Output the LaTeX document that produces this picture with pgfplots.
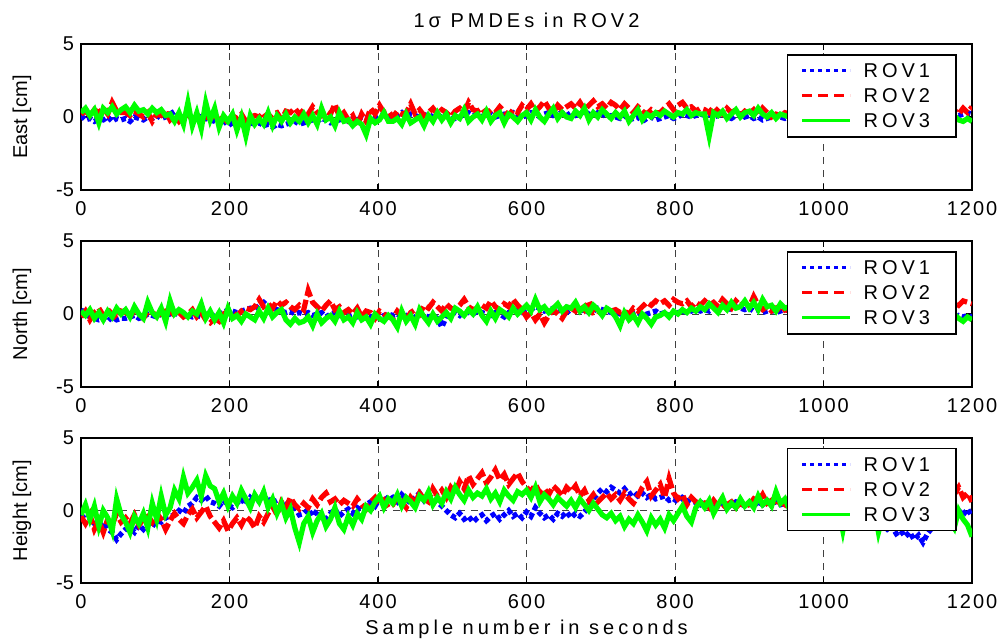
\documentclass[border=0pt]{standalone}
\usepackage{pgfplots}
\pgfplotsset{compat=1.18}
\usepackage{pgfplotstable}
\usepackage{fontspec}
\setmainfont{Liberation Sans}
\newfontfamily\spacedfont[LetterSpace=20]{Liberation Sans}
\newfontfamily\tickfont[LetterSpace=10]{Liberation Sans}

\definecolor{rovone}{RGB}{0,0,255}
\definecolor{rovtwo}{RGB}{255,0,0}
\definecolor{rovthree}{RGB}{0,255,0}

% columns: t = sample, a = ROV1, b = ROV2, c = ROV3 (cm)
\pgfplotstableread{
t a b c
0 0.1 0.2 0.3
6 -0.2 0.4 0.6
12 -0.1 0.1 0.1
18 -0.3 0.5 0.5
24 -0.1 0.3 -0.4
30 -0.2 0.6 0.6
36 0.0 0.2 0.3
42 -0.3 1.0 0.7
48 -0.1 0.4 0.2
54 -0.2 0.3 0.5
60 -0.1 0.3 0.7
66 -0.3 0.1 0.3
72 0.0 0.4 0.8
78 -0.1 0.2 0.4
84 -0.2 0.0 0.5
90 0.0 0.3 0.2
96 -0.1 -0.3 0.6
102 0.1 0.2 0.3
108 -0.1 0.1 0.5
114 0.0 0.4 0.1
120 0.2 -0.2 0.2
126 0.4 0.1 -0.3
132 0.1 -0.3 0.3
138 0.0 0.0 -0.5
144 0.2 0.2 1.0
150 -0.1 -0.2 -0.6
156 0.1 0.1 0.3
162 0.0 -0.4 -0.8
168 -0.1 0.0 1.0
174 -0.2 -0.1 -0.2
180 -0.3 0.1 0.6
186 -0.5 -0.2 -0.7
192 -0.2 0.0 0.1
198 -0.6 -0.4 -0.3
204 -0.4 0.1 0.2
210 -0.3 -0.1 -0.9
216 -0.5 0.2 0.0
222 -0.6 -0.3 -1.3
228 -0.4 0.0 0.1
234 -0.5 0.1 -0.5
240 -0.4 0.0 -0.1
246 -0.6 0.3 -0.5
252 -0.5 -0.1 0.3
258 -0.7 0.2 -0.6
264 -0.5 0.3 0.1
270 -0.6 -0.2 -0.3
276 -0.5 0.4 0.2
282 -0.4 0.3 -0.4
288 -0.3 0.6 0.0
294 -0.5 0.2 -0.3
300 -0.4 0.5 0.2
306 -0.3 0.2 -0.4
312 -0.2 0.7 0.1
318 -0.3 0.3 -0.5
324 -0.1 0.1 0.6
330 -0.2 0.4 -0.2
336 -0.4 0.2 0.0
342 -0.3 0.9 -0.6
348 -0.2 0.0 0.3
354 -0.1 0.3 -0.3
360 -0.3 -0.2 -0.2
366 -0.1 0.1 -0.6
372 -0.2 -0.6 -0.3
378 0.0 0.2 -0.5
384 -0.1 -0.3 -1.2
390 0.1 0.6 -0.1
396 0.0 0.2 -0.4
402 0.2 0.8 -0.2
408 0.1 0.3 0.3
414 0.0 0.4 -0.3
420 0.2 0.0 -0.3
426 0.1 0.4 -0.1
432 0.3 0.2 -0.5
438 0.0 0.3 0.2
444 0.2 0.9 -0.4
450 0.1 0.2 -0.2
456 0.0 0.5 0.0
462 0.1 0.1 -0.6
468 0.2 0.3 0.1
474 0.0 0.6 -0.3
480 0.1 0.2 0.3
486 0.0 0.5 -0.2
492 0.2 0.3 0.2
498 0.1 0.0 -0.4
504 -0.1 0.4 0.1
510 0.0 0.6 -0.1
516 0.2 0.3 0.5
522 0.3 1.0 -0.3
528 0.1 0.5 0.0
534 0.2 0.4 0.2
540 0.0 0.6 -0.2
546 0.1 0.2 0.4
552 0.2 0.5 -0.3
558 0.0 0.3 0.1
564 0.1 0.7 0.3
570 0.2 0.4 -0.4
576 0.1 0.1 0.2
582 0.3 0.5 0.0
588 0.1 0.3 -0.3
594 0.0 0.8 0.1
600 0.1 0.5 0.3
606 0.3 0.9 -0.2
612 0.2 0.4 0.5
618 0.0 0.7 0.0
624 0.2 1.1 -0.3
630 0.3 0.6 0.2
636 0.1 0.3 0.6
642 0.2 0.8 -0.1
648 0.3 0.5 0.3
654 0.1 0.7 0.0
660 0.3 0.9 -0.1
666 0.1 0.6 0.4
672 0.2 1.0 0.1
678 0.4 0.5 0.6
684 0.2 0.8 -0.2
690 0.1 1.1 0.3
696 0.3 0.7 0.0
702 0.2 0.9 0.5
708 0.0 0.6 0.2
714 0.1 1.0 -0.1
720 0.0 0.8 0.3
726 -0.1 0.5 0.0
732 0.1 0.9 0.4
738 -0.2 0.6 -0.3
744 -0.1 0.3 0.1
750 0.0 0.7 0.5
756 -0.3 0.4 -0.2
762 -0.1 0.2 0.2
768 0.0 0.5 0.0
774 -0.2 0.3 0.3
780 -0.1 0.3 0.1
786 0.0 0.6 0.4
792 0.1 0.9 0.2
798 -0.1 0.5 0.0
804 0.0 0.8 0.3
810 0.2 1.0 0.2
816 0.1 0.6 0.5
822 0.0 0.7 0.1
828 0.1 0.4 0.3
834 0.2 0.6 0.2
840 0.1 0.5 0.2
846 0.2 0.3 -1.3
852 0.0 0.7 0.3
858 0.1 0.4 0.1
864 0.2 0.2 0.4
870 0.0 0.6 -0.1
876 -0.1 0.3 0.2
882 0.1 0.5 0.5
888 0.2 0.1 0.0
894 0.0 0.4 0.3
900 0.1 0.2 0.4
906 -0.1 0.5 0.1
912 0.0 0.1 0.6
918 -0.2 0.6 0.2
924 -0.1 0.3 0.0
930 0.0 0.0 0.3
936 0.1 0.2 -0.1
942 0.0 0.1 0.2
948 -0.1 0.3 0.1
954 0.0 0.2 0.0
960 0.0 0.2 0.1
966 0.1 0.4 -0.2
972 0.2 0.1 0.3
978 0.1 0.3 0.0
984 0.0 0.5 -0.3
990 0.2 0.2 0.2
996 0.1 0.4 0.1
1002 0.3 0.3 -0.1
1008 0.2 0.1 0.3
1014 0.1 0.2 0.0
1020 0.1 0.3 -0.1
1026 0.0 0.1 0.2
1032 0.2 0.4 0.0
1038 0.1 0.2 -0.3
1044 0.3 0.0 0.1
1050 0.2 0.3 -0.2
1056 0.1 0.5 0.2
1062 0.0 0.2 0.0
1068 0.2 0.4 -0.1
1074 0.1 0.3 0.1
1080 0.2 0.2 0.0
1086 0.1 0.4 -0.2
1092 0.3 0.3 0.1
1098 0.2 0.5 -0.1
1104 0.0 0.2 0.2
1110 0.1 0.1 -0.3
1116 0.2 0.3 0.0
1122 0.3 0.4 -0.1
1128 0.1 0.2 0.1
1134 0.2 0.3 -0.2
1140 0.1 0.3 -0.1
1146 0.2 0.2 0.1
1152 0.0 0.4 -0.2
1158 0.1 0.3 0.0
1164 0.2 0.1 -0.1
1170 0.3 0.3 -0.3
1176 0.2 0.5 0.1
1182 0.1 0.2 -0.2
1188 0.2 0.6 -0.3
1194 0.3 0.3 -0.1
1200 0.2 0.7 -0.3
}\eastdata

\pgfplotstableread{
t a b c
0 0.3 -0.2 0.2
6 0.0 0.2 -0.1
12 -0.2 -0.4 0.3
18 -0.3 0.1 -0.3
24 -0.4 0.4 0.1
30 -0.3 -0.1 -0.4
36 -0.5 0.3 0.2
42 -0.2 0.0 -0.2
48 -0.4 -0.3 0.4
54 -0.3 0.2 0.0
60 -0.3 0.1 0.3
66 -0.2 -0.2 -0.2
72 -0.1 0.3 0.5
78 -0.3 0.0 0.0
84 -0.2 -0.3 -0.3
90 0.0 0.2 0.8
96 -0.1 0.1 0.1
102 -0.2 -0.1 -0.2
108 0.0 0.0 0.4
114 -0.1 0.2 -0.5
120 0.0 0.2 0.9
126 0.1 -0.1 0.0
132 -0.1 0.1 0.3
138 0.0 -0.2 0.1
144 -0.1 0.0 -0.2
150 -0.2 0.3 0.2
156 -0.1 -0.2 0.0
162 -0.2 0.1 0.7
168 0.0 -0.4 -0.3
174 -0.1 -0.6 0.2
180 -0.1 -0.3 -0.4
186 0.0 -0.5 0.1
192 0.1 0.0 -0.6
198 0.3 0.2 0.4
204 0.2 0.1 -0.3
210 0.1 -0.1 -0.1
216 0.2 0.2 -0.5
222 0.3 0.4 0.0
228 0.4 0.3 -0.2
234 0.3 0.5 -0.4
240 0.6 1.0 0.2
246 0.8 0.5 -0.3
252 0.5 0.7 0.4
258 0.4 0.4 -0.2
264 0.3 0.9 0.1
270 0.2 0.6 0.3
276 0.1 0.8 -0.4
282 0.2 0.5 -0.7
288 0.0 0.3 -0.3
294 0.1 0.6 -0.6
300 0.0 0.3 -0.5
306 0.1 1.6 -0.2
312 -0.1 0.8 -0.8
318 0.0 0.5 0.0
324 0.1 0.2 -0.6
330 -0.2 0.6 -0.3
336 0.0 0.9 -0.1
342 0.1 0.3 -0.5
348 -0.1 0.5 0.2
354 0.0 0.1 -0.4
360 -0.1 0.3 -0.2
366 0.0 0.0 -0.6
372 -0.2 0.4 0.1
378 -0.1 -0.2 -0.4
384 0.0 0.2 -0.2
390 -0.2 0.1 -0.7
396 -0.1 -0.3 0.0
402 -0.3 0.2 -0.3
408 -0.1 0.0 -0.5
414 0.0 -0.2 -0.1
420 -0.1 -0.3 -0.4
426 0.0 0.2 -0.9
432 -0.2 -0.1 0.2
438 -0.1 -0.4 -0.5
444 -0.3 0.1 -0.1
450 -0.2 0.3 -0.7
456 0.0 0.0 0.3
462 -0.1 0.6 -0.2
468 -0.2 0.4 -0.6
474 -0.1 0.8 0.0
480 -0.3 0.5 -0.5
486 -0.9 0.2 -0.2
492 -0.2 0.7 0.1
498 0.0 0.4 -0.3
504 0.1 0.3 0.4
510 -0.1 0.6 0.2
516 0.2 1.0 -0.1
522 0.1 0.5 0.3
528 0.0 0.3 0.0
534 0.2 0.4 0.5
540 0.1 0.6 -0.1
546 0.0 0.4 -0.5
552 -0.1 0.9 0.2
558 0.1 0.5 -0.3
564 0.0 0.3 0.3
570 -0.2 0.7 0.1
576 0.1 0.5 -0.2
582 0.3 1.0 0.4
588 0.2 0.6 0.0
594 0.1 0.3 0.3
600 0.2 -0.2 0.6
606 0.3 0.1 0.2
612 0.5 -0.4 1.0
618 0.4 0.0 0.3
624 0.2 -0.6 0.5
630 0.3 -0.1 0.1
636 0.4 0.3 0.4
642 0.2 0.0 0.7
648 0.3 -0.3 0.2
654 0.1 0.2 0.5
660 0.3 0.4 0.4
666 0.4 0.2 0.8
672 0.2 0.7 0.2
678 0.3 0.3 0.5
684 0.1 0.9 0.1
690 0.2 0.1 0.6
696 0.4 0.2 0.3
702 0.3 0.0 -0.1
708 0.2 0.3 0.4
714 0.1 0.2 0.2
720 0.1 0.3 -0.2
726 0.0 0.1 -0.8
732 0.1 0.2 0.1
738 -0.1 0.0 -0.4
744 0.0 0.4 -0.1
750 0.1 0.2 -0.6
756 -0.1 0.5 0.0
762 0.0 0.8 -0.3
768 0.1 0.6 -0.7
774 0.2 0.9 -0.2
780 0.0 0.7 -0.1
786 0.1 0.9 0.1
792 -0.1 0.6 -0.2
798 0.0 1.0 0.2
804 0.1 0.8 0.0
810 0.2 0.7 0.3
816 0.1 0.9 0.1
822 0.2 0.5 0.4
828 0.3 0.8 0.2
834 0.2 0.6 0.5
840 0.3 0.9 0.3
846 0.2 0.6 0.7
852 0.4 0.8 0.4
858 0.3 0.5 0.1
864 0.5 1.0 0.6
870 0.4 0.7 0.3
876 0.3 0.4 0.8
882 0.5 0.9 0.4
888 0.4 0.6 0.5
894 0.3 0.8 0.9
900 0.4 0.5 0.4
906 0.2 1.2 0.8
912 0.3 0.6 0.3
918 0.1 0.3 1.0
924 0.2 0.5 0.5
930 0.3 0.2 0.6
936 0.1 0.4 0.2
942 0.2 0.1 0.7
948 0.3 0.3 0.4
954 0.2 0.2 0.5
960 0.2 0.4 0.1
966 0.1 0.2 0.3
972 0.3 0.5 -0.1
978 0.2 0.3 0.2
984 0.0 0.6 0.0
990 0.1 0.4 0.3
996 0.2 0.5 -0.2
1002 0.0 0.3 0.1
1008 -0.1 0.6 0.0
1014 0.0 0.5 -0.1
1020 -0.1 0.6 -0.1
1026 0.0 0.4 0.2
1032 -0.2 0.7 -0.3
1038 -0.1 0.5 0.0
1044 0.0 0.8 -0.2
1050 -0.1 0.6 0.1
1056 -0.2 0.5 -0.4
1062 -0.1 0.7 -0.1
1068 0.0 0.6 0.0
1074 -0.2 0.8 -0.2
1080 -0.1 0.7 0.0
1086 -0.2 0.6 -0.3
1092 0.0 0.8 0.1
1098 -0.1 0.7 -0.2
1104 -0.3 0.9 -0.1
1110 -0.2 0.6 0.0
1116 -0.1 0.8 -0.4
1122 0.0 0.7 -0.2
1128 -0.2 0.9 0.1
1134 -0.1 0.8 -0.3
1140 -0.2 0.7 -0.2
1146 -0.1 0.9 0.0
1152 -0.3 0.6 -0.3
1158 -0.2 0.8 -0.1
1164 -0.1 0.7 -0.4
1170 -0.2 1.0 -0.2
1176 -0.3 0.8 0.0
1182 -0.1 0.6 -0.3
1188 -0.2 0.9 -0.5
1194 -0.1 0.8 -0.2
1200 -0.2 0.7 -0.4
}\northdata

\pgfplotstableread{
t a b c
0 -0.3 -0.4 -0.3
6 -0.6 -0.9 0.4
12 -0.5 -0.3 -0.6
18 -0.9 -1.3 0.3
24 -1.1 -0.7 -1.1
30 -0.8 -1.5 0.0
36 -1.3 -0.6 -0.5
42 -1.5 -1.0 -1.4
48 -2.0 -0.2 0.8
54 -1.6 -0.8 -0.3
60 -1.3 -0.5 -0.8
66 -1.2 -0.9 -1.5
72 -1.5 -0.3 -0.4
78 -1.0 -1.0 -0.9
84 -1.3 -0.6 -0.2
90 -0.9 -0.4 -1.2
96 -1.1 -0.8 0.5
102 -0.7 -0.2 -0.6
108 -0.8 -0.6 1.0
114 -0.5 -1.3 -0.3
120 -0.4 -0.7 0.2
126 -0.3 -0.2 1.4
132 0.0 -0.6 0.8
138 -0.2 -0.9 2.3
144 0.3 -0.3 1.2
150 0.5 0.1 1.6
156 0.9 -0.5 2.1
162 0.7 -0.1 1.0
168 1.0 0.3 2.4
174 0.6 -0.4 1.7
180 0.5 -0.8 1.5
186 0.3 -1.2 0.6
192 0.7 -0.7 1.2
198 0.4 -1.4 0.3
204 0.2 -0.9 1.0
210 0.5 -0.5 0.5
216 0.8 -1.0 1.4
222 0.4 -0.4 0.8
228 0.9 -0.7 0.2
234 0.6 -1.2 1.1
240 0.7 -0.4 0.6
246 1.2 -0.8 1.3
252 0.5 -0.2 0.2
258 0.9 0.3 0.8
264 0.3 -0.3 -0.2
270 0.1 0.6 0.5
276 0.4 0.2 -0.5
282 -0.1 0.9 0.1
288 0.2 0.4 -1.2
294 -0.3 0.1 -2.2
300 -0.2 0.5 -0.9
306 0.1 0.2 -0.4
312 -0.4 0.8 -1.5
318 0.0 0.4 -0.7
324 -0.3 0.9 -0.2
330 -0.6 1.2 -1.1
336 -0.2 0.6 -0.6
342 0.1 0.8 0.2
348 -0.4 0.4 -0.9
354 -0.1 0.7 -1.3
360 0.1 0.5 -0.4
366 -0.2 0.3 -1.0
372 0.2 0.8 -0.2
378 0.0 0.4 -0.6
384 0.4 0.1 0.3
390 0.6 0.6 0.0
396 0.3 0.9 0.6
402 0.8 0.4 1.0
408 1.0 0.7 0.2
414 0.7 0.2 0.8
420 0.9 0.4 0.5
426 0.6 1.0 1.1
432 1.1 0.6 0.3
438 0.8 0.2 0.9
444 0.5 0.9 0.6
450 0.9 0.5 0.2
456 1.2 1.2 1.0
462 0.7 0.8 0.7
468 1.0 0.6 1.3
474 0.8 1.5 0.4
480 0.6 1.0 0.9
486 0.3 1.4 0.5
492 0.0 0.9 1.3
498 -0.3 1.6 0.8
504 -0.5 1.2 1.6
510 -0.2 2.0 1.1
516 -0.6 1.5 0.7
522 -0.4 2.4 1.4
528 -0.8 1.8 0.9
534 -0.5 2.2 1.2
540 -0.3 2.6 1.0
546 -0.7 1.9 1.5
552 -0.4 2.3 0.8
558 -0.2 2.8 1.2
564 -0.6 2.1 0.6
570 -0.3 2.5 1.4
576 0.0 1.8 1.0
582 -0.4 2.2 0.7
588 -0.2 2.6 1.3
594 -0.5 2.0 1.1
600 -0.1 1.6 1.4
606 -0.4 1.3 0.9
612 0.2 1.8 1.6
618 -0.2 1.2 0.6
624 -0.5 1.5 1.1
630 -0.3 1.1 0.8
636 -0.6 1.7 0.4
642 -0.2 1.4 0.9
648 -0.4 1.0 0.6
654 -0.1 1.6 0.3
660 -0.5 1.3 0.7
666 -0.2 1.7 0.2
672 -0.4 1.0 0.8
678 -0.1 1.4 0.4
684 0.3 0.7 0.0
690 0.8 1.1 0.5
696 1.2 0.6 0.1
702 1.5 0.9 -0.3
708 1.3 1.2 -0.5
714 1.6 0.8 -0.2
720 1.4 1.1 -0.7
726 1.2 0.7 -0.4
732 1.5 1.2 -1.1
738 1.1 0.8 -0.6
744 1.3 0.5 -0.9
750 1.0 1.0 -0.3
756 1.2 1.6 -0.8
762 0.9 2.0 -1.4
768 1.1 1.0 -0.5
774 0.8 1.4 -1.0
780 0.9 1.8 -0.6
786 1.0 0.9 -1.2
792 0.7 2.2 -0.3
798 0.8 1.2 -0.7
804 0.6 0.8 -0.2
810 0.9 1.1 0.3
816 0.7 0.4 -0.4
822 0.5 0.9 -0.8
828 0.6 0.6 0.2
834 0.4 0.3 0.6
840 0.6 0.5 0.2
846 0.4 0.2 0.7
852 0.5 0.7 -0.2
858 0.3 0.3 0.4
864 0.5 0.1 0.9
870 0.2 0.4 0.1
876 0.4 0.6 0.5
882 0.6 0.2 0.2
888 0.5 0.5 0.8
894 0.3 0.3 0.3
900 0.5 0.4 0.6
906 0.3 0.8 0.2
912 0.6 0.6 1.0
918 0.4 1.1 0.4
924 0.7 0.5 0.7
930 0.5 0.7 0.3
936 0.6 0.3 1.3
942 0.4 0.6 0.5
948 0.5 0.4 0.8
954 0.3 0.2 0.1
960 0.2 0.3 0.4
966 0.0 0.5 0.0
972 0.1 0.2 0.6
978 -0.2 0.6 -0.3
984 -0.4 0.4 0.2
990 -0.3 0.1 0.5
996 -0.5 0.5 -0.2
1002 -0.6 0.3 0.3
1008 -0.4 0.6 0.0
1014 -0.7 0.4 -0.4
1020 -0.6 0.5 0.1
1026 -0.8 0.2 -1.4
1032 -0.5 0.6 0.2
1038 -0.9 0.3 -0.5
1044 -0.7 0.7 0.3
1050 -1.0 0.4 -0.2
1056 -0.8 0.2 0.0
1062 -1.1 0.5 -0.6
1068 -0.9 0.3 0.2
1074 -1.2 0.6 -1.5
1080 -1.0 0.4 -0.3
1086 -1.3 0.7 0.2
1092 -1.1 0.5 -0.4
1098 -1.6 0.9 0.0
1104 -1.4 0.6 0.3
1110 -1.8 0.8 -0.2
1116 -1.5 1.0 0.1
1122 -2.0 0.7 -0.5
1128 -1.7 0.9 0.0
1134 -2.2 1.1 -0.3
1140 -1.6 1.0 -0.2
1146 -1.2 1.3 -0.5
1152 -0.9 0.8 0.0
1158 -0.6 1.2 -0.4
1164 -0.8 0.9 -0.1
1170 -0.4 1.5 -0.7
1176 -0.2 1.1 -1.2
1182 0.0 1.6 0.0
1188 -0.3 0.9 -0.6
1194 0.1 1.2 -1.0
1200 -0.4 0.6 -1.8
}\heightdata

\pgfplotsset{
  rovpanel/.style={
    scale only axis, width=445.5pt, height=73pt,
    xmin=0, xmax=1200, ymin=-5, ymax=5,
    xtick={0,200,...,1200}, ytick={-5,0,5},
    grid=major,
    major grid style={dash pattern=on 3.5pt off 3pt, black!75, line width=0.5pt},
    tick align=inside, major tick length=3pt,
    axis line style={line width=0.8pt},
    every tick/.style={black, line width=0.6pt},
    /pgf/number format/assume math mode=true,
    /pgf/number format/1000 sep={},
    tick label style={font=\tickfont},
    yticklabel style={font=\rmfamily},
    xticklabel style={anchor=base, yshift=-12.5pt},
    ylabel style={at={(axis description cs:-0.0662,0.5)}, anchor=center},
    legend style={
      at={(axis description cs:0.983,0.932)}, anchor=north east,
      draw=black, line width=0.8pt, fill=white,
      font=\spacedfont,
      inner xsep=6.5pt, inner ysep=2.4pt,
      row sep=1.3pt,
      nodes={inner xsep=2pt, inner ysep=2pt, text height=7.2pt, text depth=0pt},
      /tikz/every odd column/.append style={column sep=4pt},
    },
    legend cell align=left,
    legend image code/.code={\draw[##1] (0pt,0pt) -- (24pt,0pt);},
  },
  % data traces
  rov1/.style={rovone, line width=2.6pt, dash pattern=on 2.5pt off 1.5pt, forget plot},
  rov2/.style={rovtwo, line width=2.6pt, dash pattern=on 6pt off 2pt, forget plot},
  rov3/.style={rovthree, line width=2.6pt, forget plot},
  % legend samples
  rov1key/.style={rovone, line width=1.5pt, dash pattern=on 2pt off 2pt},
  rov2key/.style={rovtwo, line width=1.5pt, dash pattern=on 5pt off 3pt},
  rov3key/.style={rovthree, line width=1.5pt},
}

\begin{document}
\begin{tikzpicture}
\useasboundingbox (0,0) rectangle (502pt,-319.5pt);

% East component
\begin{axis}[rovpanel, at={(40.5pt,-22pt)}, anchor=north west,
  ylabel={East [cm]},
  title={1σ PMDEs in ROV2},
  title style={at={(axis description cs:0.5,1)}, anchor=base, yshift=2.5pt, font=\spacedfont}]
  \addplot[rov1] table[x=t, y=a] {\eastdata};
  \addplot[rov2] table[x=t, y=b] {\eastdata};
  \addplot[rov3] table[x=t, y=c] {\eastdata};
  \addlegendimage{rov1key}\addlegendentry{ROV1\hspace*{4.5pt}}
  \addlegendimage{rov2key}\addlegendentry{ROV2\hspace*{4.5pt}}
  \addlegendimage{rov3key}\addlegendentry{ROV3\hspace*{4.5pt}}
\end{axis}

% North component
\begin{axis}[rovpanel, at={(40.5pt,-120.5pt)}, anchor=north west,
  ylabel={North [cm]}]
  \addplot[rov1] table[x=t, y=a] {\northdata};
  \addplot[rov2] table[x=t, y=b] {\northdata};
  \addplot[rov3] table[x=t, y=c] {\northdata};
  \addlegendimage{rov1key}\addlegendentry{ROV1\hspace*{4.5pt}}
  \addlegendimage{rov2key}\addlegendentry{ROV2\hspace*{4.5pt}}
  \addlegendimage{rov3key}\addlegendentry{ROV3\hspace*{4.5pt}}
\end{axis}

% Height component
\begin{axis}[rovpanel, at={(40.5pt,-219pt)}, anchor=north west, height=72.5pt,
  ylabel={Height [cm]},
  xlabel={Sample number in seconds},
  xlabel style={at={(axis description cs:0.5,0)}, anchor=base, yshift=-25.5pt, font=\spacedfont}]
  \addplot[rov1] table[x=t, y=a] {\heightdata};
  \addplot[rov2] table[x=t, y=b] {\heightdata};
  \addplot[rov3] table[x=t, y=c] {\heightdata};
  \addlegendimage{rov1key}\addlegendentry{ROV1\hspace*{4.5pt}}
  \addlegendimage{rov2key}\addlegendentry{ROV2\hspace*{4.5pt}}
  \addlegendimage{rov3key}\addlegendentry{ROV3\hspace*{4.5pt}}
\end{axis}
\end{tikzpicture}
\end{document}
